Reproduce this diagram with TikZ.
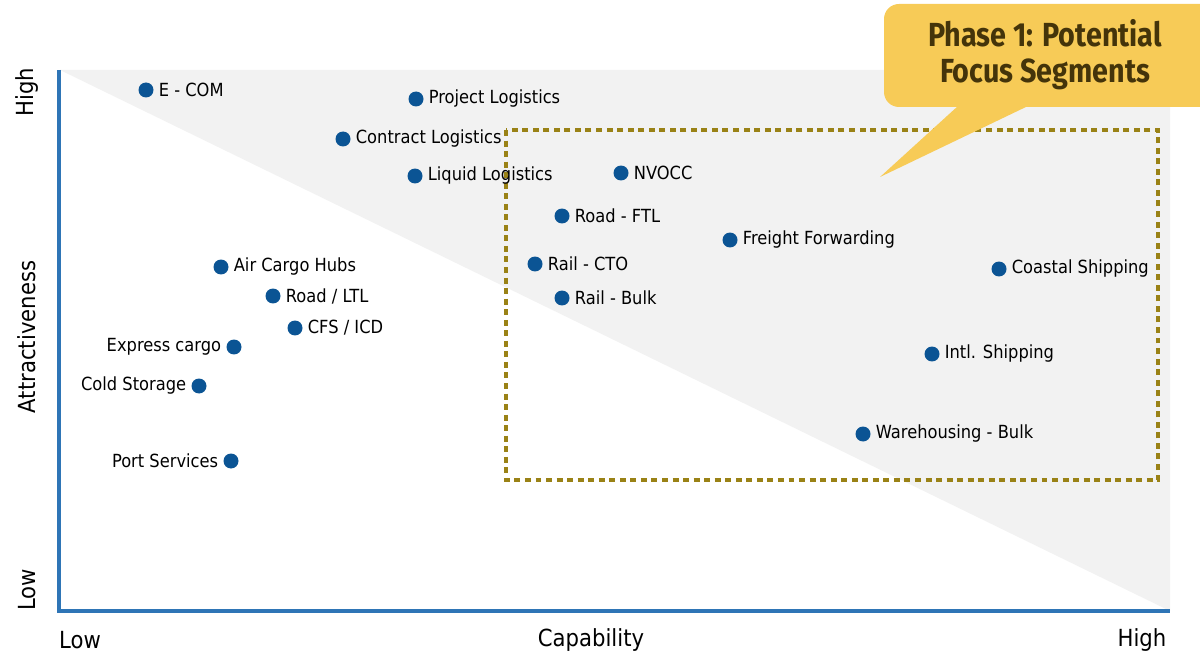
\documentclass[tikz,border=0pt]{standalone}
\usepackage{fontspec}
\setmainfont{DejaVu Sans}[FakeStretch=0.9]
\newfontfamily\calloutfont{Fira Sans}[FakeStretch=0.86]
\usepackage{tikz}
\definecolor{dotblue}{HTML}{0B5494}
\definecolor{axisblue}{HTML}{2E75B6}
\definecolor{zonegray}{HTML}{F2F2F2}
\definecolor{boxolive}{HTML}{9A8216}
\definecolor{calloutyellow}{HTML}{F7CB57}
\definecolor{callouttext}{HTML}{44340A}
\tikzset{
  lblR/.style={right, xshift=2.5mm, inner sep=0pt, text=black, font=\fontsize{10.3}{12}\selectfont},
  lblL/.style={left, xshift=-2.5mm, inner sep=0pt, text=black, font=\fontsize{10.3}{12}\selectfont},
  axistext/.style={font=\fontsize{13.4}{15}\selectfont, inner sep=0pt}
}

\begin{document}
\begin{tikzpicture}[x=0.02cm, y=-0.02cm]
    \useasboundingbox (0,0) rectangle (1200,655);

    % Grey zone above the diagonal
    \fill[zonegray] (60,70) -- (1170,70) -- (1170,611) -- cycle;

    % Axes
    \draw[axisblue, line width=1.8pt] (59,70) -- (59,611) -- (1170,611);

    % Axis labels
    \node[axistext, rotate=90] (ylow) at (27,590) {Low};
    \node[axistext, rotate=90] (ytitle) at (27,337) {Attractiveness};
    \node[axistext, rotate=90] (yhigh) at (27,92) {High};
    \node[axistext] (xlow) at (80,640) {Low};
    \node[axistext] (xtitle) at (591,640) {Capability};
    \node[axistext] (xhigh) at (1142,640) {High};

    % Focus segment box
    \draw[boxolive, line width=2pt, dash pattern=on 3.4pt off 2.6pt] (506,130) rectangle (1158,480);

    % Segments (attractive, low capability)
    \fill[dotblue] (146,90) circle (1.5mm) node[lblR] (ecom) {E - COM};
    \fill[dotblue] (416,99) circle (1.5mm) node[lblR] (project) {Project Logistics};
    \fill[dotblue] (343,139) circle (1.5mm) node[lblR] (contract) {Contract Logistics};
    \fill[dotblue] (415,176) circle (1.5mm) node[lblR] (liquid) {Liquid Logistics};

    % Segments inside the focus box
    \fill[dotblue] (621,173) circle (1.5mm) node[lblR] (nvocc) {NVOCC};
    \fill[dotblue] (562,216) circle (1.5mm) node[lblR] (roadftl) {Road - FTL};
    \fill[dotblue] (730,240) circle (1.5mm) node[lblR] (freight) {Freight Forwarding};
    \fill[dotblue] (535,264) circle (1.5mm) node[lblR] (railcto) {Rail - CTO};
    \fill[dotblue] (562,298) circle (1.5mm) node[lblR] (railbulk) {Rail - Bulk};
    \fill[dotblue] (999,269) circle (1.5mm) node[lblR] (coastal) {Coastal Shipping};
    \fill[dotblue] (932,354) circle (1.5mm) node[lblR] (intl) {Intl. Shipping};
    \fill[dotblue] (863,434) circle (1.5mm) node[lblR] (warehouse) {Warehousing - Bulk};

    % Segments (low capability, mid attractiveness)
    \fill[dotblue] (221,267) circle (1.5mm) node[lblR] (aircargo) {Air Cargo Hubs};
    \fill[dotblue] (273,296) circle (1.5mm) node[lblR] (roadltl) {Road / LTL};
    \fill[dotblue] (295,328) circle (1.5mm) node[lblR] (cfs) {CFS / ICD};
    \fill[dotblue] (234,347) circle (1.5mm) node[lblL] (express) {Express cargo};
    \fill[dotblue] (199,386) circle (1.5mm) node[lblL] (cold) {Cold Storage};
    \fill[dotblue] (231,461) circle (1.5mm) node[lblL] (port) {Port Services};

    % Callout
    \fill[calloutyellow, rounded corners=0.3cm] (884,4) rectangle (1215,107);
    \fill[calloutyellow] (958,106) -- (1028,106) -- (880,177) -- cycle;
    \node[callouttext, font=\calloutfont\bfseries\fontsize{19}{20.5}\selectfont, align=center] (phase) at (1045,55) {Phase 1: Potential\\Focus Segments};
\end{tikzpicture}
\end{document}
